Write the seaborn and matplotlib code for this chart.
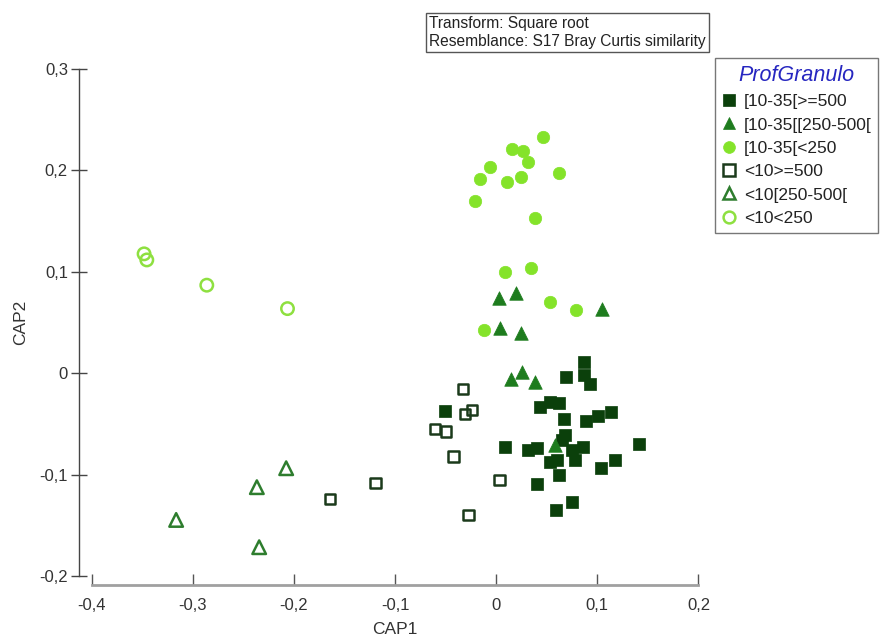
import numpy as np
import pandas as pd
import seaborn as sns
import matplotlib.pyplot as plt
from matplotlib.lines import Line2D

# Group names (depth class + grain-size class)
groups = ["[10-35[>=500", "[10-35[[250-500[", "[10-35[<250",
          "<10>=500", "<10[250-500[", "<10<250"]

# CAP ordination scores per group
deep_coarse_x = [0.0864, 0.0692, 0.0864, 0.0923, -0.0504, 0.0428, 0.0527, 0.0616,
                 0.0666, 0.0887, 0.1006, 0.1137, 0.0682, 0.0089, 0.0310, 0.0403,
                 0.0650, 0.0749, 0.0858, 0.0781, 0.0534, 0.0600, 0.0616, 0.1039,
                 0.1177, 0.1408, 0.0403, 0.0749, 0.0591]
deep_coarse_y = [0.0108, -0.0034, -0.0017, -0.0108, -0.0372, -0.0329, -0.0280, -0.0296,
                 -0.0451, -0.0470, -0.0418, -0.0379, -0.0608, -0.0724, -0.0756, -0.0740,
                 -0.0658, -0.0756, -0.0730, -0.0855, -0.0878, -0.0855, -0.1003, -0.0937,
                 -0.0855, -0.0697, -0.1092, -0.1272, -0.1348]

deep_medium_x = [0.0145, 0.0254, 0.0379, 0.0584, 0.0023, 0.0198, 0.1045, 0.0040, 0.0244]
deep_medium_y = [-0.0059, 0.0016, -0.0083, -0.0707, 0.0746, 0.0795, 0.0631, 0.0444, 0.0400]

deep_fine_x = [0.0089, 0.0343, 0.0527, 0.0791, -0.0119, 0.0462, 0.0155, 0.0260,
               0.0319, -0.0059, -0.0158, 0.0106, 0.0247, 0.0616, -0.0208, 0.0386]
deep_fine_y = [0.1002, 0.1036, 0.0706, 0.0624, 0.0427, 0.2333, 0.2209, 0.2192,
               0.2081, 0.2037, 0.1913, 0.1884, 0.1939, 0.1972, 0.1702, 0.1535]

shallow_coarse_x = [-0.0329, -0.0240, -0.0307, -0.0603, -0.0495, -0.0422, 0.0033,
                    -0.0274, -0.1194, -0.1642]
shallow_coarse_y = [-0.0158, -0.0362, -0.0404, -0.0552, -0.0576, -0.0822, -0.1052,
                    -0.1397, -0.1085, -0.1243]

shallow_medium_x = [-0.2077, -0.2367, -0.3165, -0.2344]
shallow_medium_y = [-0.0937, -0.1124, -0.1447, -0.1716]

shallow_fine_x = [-0.3482, -0.3455, -0.2862, -0.2064]
shallow_fine_y = [0.1177, 0.1117, 0.0868, 0.0637]

# Axis ticks and their labels (decimal comma)
x_ticks = [-0.4, -0.3, -0.2, -0.1, 0.0, 0.1, 0.2]
x_tick_labels = ["-0,4", "-0,3", "-0,2", "-0,1", "0", "0,1", "0,2"]
y_ticks = [-0.2, -0.1, 0.0, 0.1, 0.2, 0.3]
y_tick_labels = ["-0,2", "-0,1", "0", "0,1", "0,2", "0,3"]

frames = []
for name, xs, ys in zip(groups,
                        [deep_coarse_x, deep_medium_x, deep_fine_x,
                         shallow_coarse_x, shallow_medium_x, shallow_fine_x],
                        [deep_coarse_y, deep_medium_y, deep_fine_y,
                         shallow_coarse_y, shallow_medium_y, shallow_fine_y]):
    frames.append(pd.DataFrame({"CAP1": xs, "CAP2": ys, "group": name}))
df = pd.concat(frames, ignore_index=True)

DARK = "#0b400b"
MID = "#1e7c1e"
LIGHT = "#84e32a"
styles = {
    "[10-35[>=500":     dict(marker="s", fc=DARK, ec=DARK, s=75, lw=0.5),
    "[10-35[[250-500[": dict(marker="^", fc=MID, ec=MID, s=95, lw=0.5),
    "[10-35[<250":      dict(marker="o", fc=LIGHT, ec=LIGHT, s=80, lw=0.5),
    "<10>=500":         dict(marker="s", fc="none", ec="#1b3a1b", s=55, lw=1.8),
    "<10[250-500[":     dict(marker="^", fc="none", ec="#2e7d2e", s=95, lw=1.8),
    "<10<250":          dict(marker="o", fc="none", ec="#8ee040", s=80, lw=1.8),
}

sns.set_style("white")
plt.rcParams["font.family"] = ["Liberation Sans", "DejaVu Sans"]

fig = plt.figure(figsize=(8.82, 6.35), dpi=100)
ax = fig.add_axes([91.7 / 882, 59 / 635, (698.5 - 91.7) / 882, (576 - 69) / 635])

for name in groups:
    st = styles[name]
    sub = df[df["group"] == name]
    sns.scatterplot(data=sub, x="CAP1", y="CAP2", ax=ax, marker=st["marker"],
                    facecolors=st["fc"], edgecolors=st["ec"], s=st["s"],
                    linewidth=st["lw"], legend=False, clip_on=False)

ax.set_xlim(-0.4, 0.2)
ax.set_ylim(-0.2, 0.3)
ax.set_xticks(x_ticks, x_tick_labels)
ax.set_yticks(y_ticks, y_tick_labels)

for side in ("top", "right"):
    ax.spines[side].set_visible(False)
ax.spines["left"].set_position(("outward", 9.1))
ax.spines["bottom"].set_position(("outward", 6.5))
ax.spines["left"].set_color("#454545")
ax.spines["left"].set_linewidth(1.0)
ax.spines["bottom"].set_color("#a0a0a0")
ax.spines["bottom"].set_linewidth(2.0)

ax.tick_params(axis="y", direction="inout", length=11, width=1, color="#454545",
               labelcolor="#333333", labelsize=12, pad=2.5, left=True)
ax.tick_params(axis="x", direction="in", length=8, width=1, color="#555555",
               labelcolor="#333333", labelsize=12, pad=9.5, bottom=True)

ax.set_xlabel("CAP1", fontsize=12.5, color="#333333")
ax.set_ylabel("CAP2", fontsize=12.5, color="#333333")
ax.xaxis.set_label_coords(0.5, -0.09)
ax.yaxis.set_label_coords(-0.105, 0.5)

# Analysis settings box
fig.text(429 / 882, 1 - 16 / 635,
         "Transform: Square root\nResemblance: S17 Bray Curtis similarity",
         ha="left", va="top", fontsize=11.2, color="#222222", linespacing=1.25,
         bbox=dict(boxstyle="square,pad=0.2", fc="white", ec="#555555", lw=1))

handles = []
for name in groups:
    st = styles[name]
    handles.append(Line2D([], [], ls="", marker=st["marker"],
                          markerfacecolor=st["fc"], markeredgecolor=st["ec"],
                          markersize=8.5, markeredgewidth=1.8 if st["fc"] == "none" else 0.5))
leg = ax.legend(handles, groups, loc="upper left",
                bbox_to_anchor=(715 / 882, 1 - 58 / 635), bbox_transform=fig.transFigure,
                title="ProfGranulo", title_fontproperties={"style": "italic", "size": 15.5},
                fontsize=12.5, frameon=True, fancybox=False, edgecolor="#555555",
                borderaxespad=0, handlelength=0.8, handletextpad=0.45,
                labelspacing=0.47, borderpad=0.4)
leg.get_title().set_color("#2626c0")
leg.get_frame().set_linewidth(1.0)
for t in leg.get_texts():
    t.set_color("#222222")

fig.savefig("out.png", dpi=100, facecolor="white")
